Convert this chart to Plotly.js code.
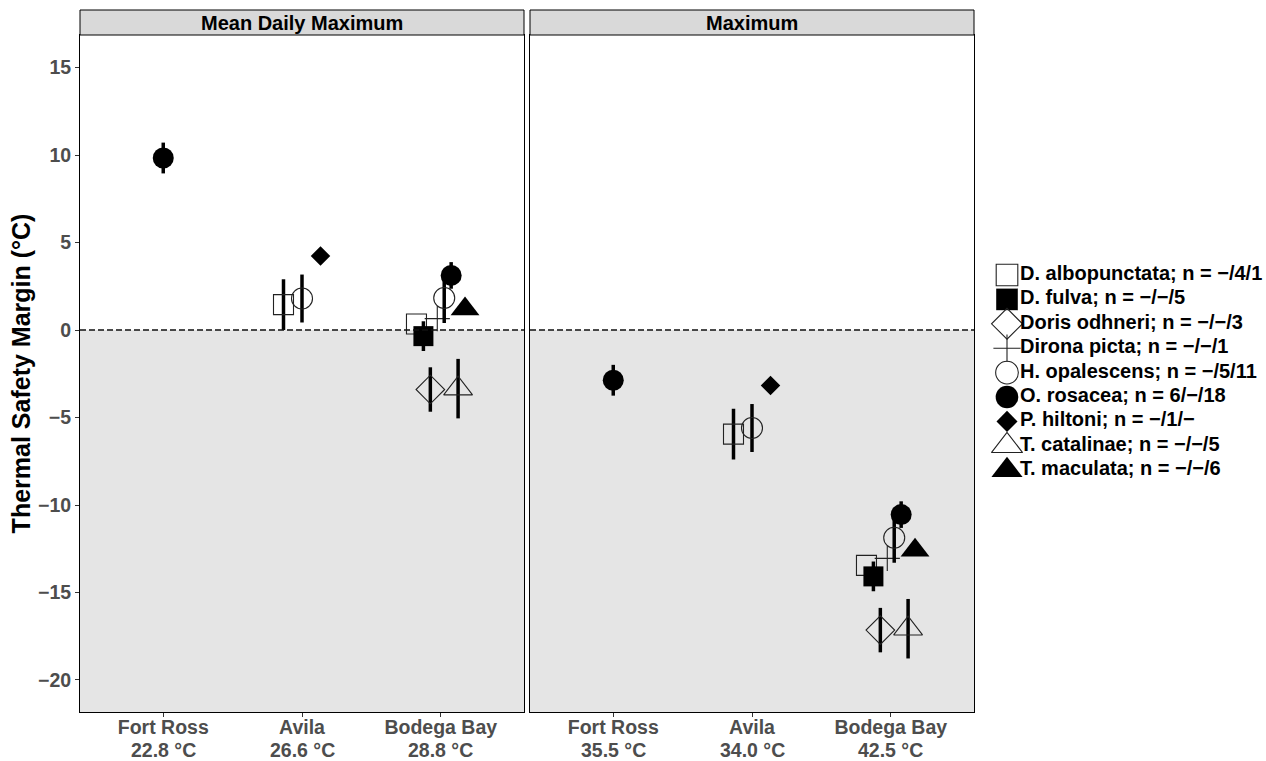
<!DOCTYPE html>
<html>
<head>
<meta charset="utf-8">
<script src="https://cdn.plot.ly/plotly-3.0.1.min.js"></script>
<style>html,body{margin:0;padding:0;background:#fff;}</style>
</head>
<body>
<div id="chart" style="width:1266px;height:761px;"></div>
<script>
// ---------- data ----------
const sites = ['Fort Ross', 'Avila', 'Bodega Bay'];
const tempMeanDailyMax = ['22.8 °C', '26.6 °C', '28.8 °C'];
const tempMax = ['35.5 °C', '34.0 °C', '42.5 °C'];
const panelTitles = ['Mean Daily Maximum', 'Maximum'];

const speciesNames = ['D. albopunctata', 'D. fulva', 'Doris odhneri', 'Dirona picta', 'H. opalescens',
                      'O. rosacea', 'P. hiltoni', 'T. catalinae', 'T. maculata'];
const speciesN = ['−/4/1', '−/−/5', '−/−/3', '−/−/1', '−/5/11', '6/−/18', '−/1/−', '−/−/5', '−/−/6'];

// one row per site × species
const rowSite = ['Fort Ross', 'Avila', 'Avila', 'Avila',
                 'Bodega Bay', 'Bodega Bay', 'Bodega Bay', 'Bodega Bay',
                 'Bodega Bay', 'Bodega Bay', 'Bodega Bay', 'Bodega Bay'];
const rowSpecies = ['O. rosacea', 'D. albopunctata', 'H. opalescens', 'P. hiltoni',
                    'D. albopunctata', 'D. fulva', 'Doris odhneri', 'Dirona picta',
                    'H. opalescens', 'O. rosacea', 'T. catalinae', 'T. maculata'];
// thermal safety margin vs mean daily maximum (°C)
const tsmMeanDailyMax = [9.83, 1.45, 1.80, 4.23, 0.34, -0.35, -3.40, 0.65, 1.83, 3.12, -3.35, 1.20];
// thermal safety margin vs maximum (°C)
const tsmMax = [-2.87, -5.95, -5.60, -3.17, -13.45, -14.08, -17.15, -13.05, -11.87, -10.55, -17.07, -12.58];
// standard deviation (null = single individual)
const tsmSD = [0.88, 1.45, 1.37, null, null, 0.85, 1.27, null, 1.43, 0.76, 1.70, 0.30];

// ---------- styles ----------
const FONT = 'Liberation Sans, Arial, Helvetica, sans-serif';
const symbols = ['square-open', 'square', 'diamond-open', 'cross-thin-open', 'circle-open',
                 'circle', 'diamond', 'triangle-up-open', 'triangle-up'];
const sizes = [20, 20, 22, 18, 21, 21, 15, 25, 25];
const DODGE = 0.4;

function dodgeX(siteArr, spArr) {
  return siteArr.map((s, i) => {
    const present = speciesNames.filter(sp => siteArr.some((s2, j) => s2 === s && spArr[j] === sp));
    const n = present.length;
    const k = present.indexOf(spArr[i]);
    return (sites.indexOf(s) + 1) + DODGE * ((k + 0.5) / n - 0.5);
  });
}
const xPos = dodgeX(rowSite, rowSpecies);

function markerStyle(si, scale) {
  const open = symbols[si].indexOf('open') >= 0;
  return {symbol: symbols[si], size: sizes[si] * scale, color: open ? '#222' : 'black',
          line: {width: open ? 1.1 : 0, color: '#222'}};
}

const traces = [];
[tsmMeanDailyMax, tsmMax].forEach((vals, p) => {
  speciesNames.forEach((sp, si) => {
    const idx = rowSpecies.map((r, i) => r === sp ? i : -1).filter(i => i >= 0);
    traces.push({
      type: 'scatter',
      mode: 'markers',
      name: sp + '; n = ' + speciesN[si],
      showlegend: false,
      xaxis: p === 0 ? 'x' : 'x2',
      yaxis: p === 0 ? 'y' : 'y2',
      x: idx.map(i => xPos[i]),
      y: idx.map(i => vals[i]),
      error_y: {type: 'data', array: idx.map(i => tsmSD[i] == null ? 0 : tsmSD[i]),
                visible: true, color: 'black', thickness: 3.5, width: 0},
      marker: markerStyle(si, 1),
      hoverinfo: 'x+y+name'
    });
  });
});

// ---------- layout ----------
const W = 1266, H = 761;
const L = 80, R = 0, T = 10, B = 49;
const pw = W - L - R, ph = H - T - B;
const d1 = [0, 444 / pw], d2 = [450 / pw, 894 / pw];
const dLeg = [905 / pw, 1];
const yTop = (ph - 25) / ph;
const yRange = [-21.83, 16.86];

// custom legend (pixel-unit helper axes)
const LEG_TOP = 275, LEG_STEP = 24.4, LEG_MX = 1007, LEG_TX = 1020;
speciesNames.forEach((sp, si) => {
  const yy = LEG_TOP + LEG_STEP * si;
  traces.push({type: 'scatter', mode: 'markers', xaxis: 'x3', yaxis: 'y3', showlegend: false,
               x: [LEG_MX], y: [yy], marker: markerStyle(si, 1.08), hoverinfo: 'skip'});
  traces.push({type: 'scatter', mode: 'text', xaxis: 'x3', yaxis: 'y3', showlegend: false,
               x: [LEG_TX], y: [yy], text: [sp + '; n = ' + speciesN[si]], textposition: 'middle right',
               textfont: {family: FONT, size: 20, color: 'black', weight: 'bold'}, hoverinfo: 'skip'});
});

const axisFont = {family: FONT, size: 19.5, color: '#4d4d4d', weight: 'bold'};
function xAx(domain, anchor) {
  return {
    domain: domain, anchor: anchor, range: [0.4, 3.6],
    tickvals: [1, 2, 3], ticktext: sites,
    ticks: 'outside', ticklen: 4, tickcolor: '#333', tickwidth: 1, ticklabelstandoff: -6,
    showline: true, mirror: true, linecolor: 'black', linewidth: 1,
    showgrid: false, zeroline: false, tickfont: axisFont, fixedrange: true
  };
}
function yAx(anchor, labels) {
  const a = {
    domain: [0, yTop], anchor: anchor, range: yRange,
    tickvals: [-20, -15, -10, -5, 0, 5, 10, 15],
    ticks: labels ? 'outside' : '', ticklen: 4, tickcolor: '#333',
    showticklabels: labels,
    showline: true, mirror: true, linecolor: 'black', linewidth: 1,
    showgrid: false, zeroline: false, tickfont: axisFont, fixedrange: true
  };
  if (labels) {
    a.title = {text: 'Thermal Safety Margin (°C)', font: {family: FONT, size: 25, color: 'black', weight: 'bold'}, standoff: 0};
  }
  return a;
}

const shapes = [];
const annotations = [];
[['x', d1, tempMeanDailyMax], ['x2', d2, tempMax]].forEach(([xr, d, temps], p) => {
  const yr = p === 0 ? 'y' : 'y2';
  shapes.push({type: 'rect', xref: xr + ' domain', yref: yr, x0: 0, x1: 1, y0: yRange[0], y1: 0,
               fillcolor: '#e5e5e5', line: {width: 0}, layer: 'below'});
  shapes.push({type: 'line', xref: xr + ' domain', yref: yr, x0: 0, x1: 1, y0: 0, y1: 0,
               line: {color: '#111', width: 1.5, dash: '6px,3px'}, layer: 'above'});
  shapes.push({type: 'rect', xref: 'paper', yref: 'paper', x0: d[0], x1: d[1], y0: yTop, y1: 1,
               fillcolor: '#d9d9d9', line: {color: 'black', width: 1}});
  annotations.push({xref: 'paper', yref: 'paper', x: (d[0] + d[1]) / 2, y: (yTop + 1) / 2,
                    xanchor: 'center', yanchor: 'middle', showarrow: false, text: panelTitles[p],
                    font: {family: FONT, size: 20, color: 'black', weight: 'bold'}});
  // second line of the site labels: temperature
  temps.forEach((t, i) => {
    annotations.push({xref: xr, yref: 'paper', x: i + 1, y: (H - B - 750) / ph,
                      xanchor: 'center', yanchor: 'middle', showarrow: false, text: t,
                      font: axisFont});
  });
});

const layout = {
  width: W, height: H,
  margin: {l: L, r: R, t: T, b: B},
  paper_bgcolor: 'white', plot_bgcolor: 'white',
  font: {family: FONT},
  xaxis: xAx(d1, 'y'),
  xaxis2: xAx(d2, 'y2'),
  yaxis: yAx('x', true),
  yaxis2: yAx('x2', false),
  xaxis3: {domain: dLeg, anchor: 'y3', range: [985, 1266], visible: false, fixedrange: true},
  yaxis3: {domain: [0, 1], anchor: 'x3', range: [H - B, T], visible: false, fixedrange: true},
  shapes: shapes,
  annotations: annotations,
  showlegend: false
};

Plotly.newPlot('chart', traces, layout, {displayModeBar: false});
</script>
</body>
</html>
